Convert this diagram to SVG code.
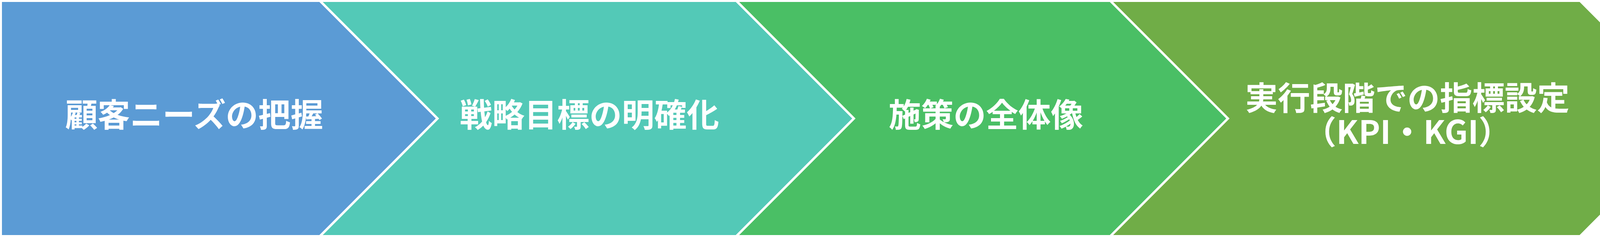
<svg xmlns="http://www.w3.org/2000/svg" width="4350" height="606" viewBox="0 0 4350 606">
<style>
.shape{stroke:#FFFFFF;stroke-width:6;stroke-linejoin:miter}
.lbl{font-family:"Noto Sans CJK JP","Noto Sans CJK SC",sans-serif;font-weight:700;font-size:83px;fill:#FFFFFF;text-anchor:middle}
</style>
<rect x="0" y="0" width="4350" height="606" fill="#FFFFFF"/>
<g id="step1">
<polygon class="shape" fill="#5B9BD5" points="2,2 819,2 1120,303 819,604 2,604"/>
<text class="lbl" x="497" y="324">顧客ニーズの把握</text>
</g>
<g id="step2">
<polygon class="shape" fill="#53C9B7" points="819,2 1885,2 2186,303 1885,604 819,604 1120,303"/>
<text class="lbl" x="1509" y="324">戦略目標の明確化</text>
</g>
<g id="step3">
<polygon class="shape" fill="#4ABF65" points="1885,2 2842.5,2 3143.5,303 2842.5,604 1885,604 2186,303"/>
<text class="lbl" x="2524" y="324">施策の全体像</text>
</g>
<g id="step4">
<polygon class="shape" fill="#70AD47" points="2842.5,2 4045,2 4346,303 4045,604 2842.5,604 3143.5,303"/>
<text class="lbl" x="3603" y="281">実行段階での指標設定<tspan x="3603" y="368">（KPI・KGI）</tspan></text>
</g>
<g id="connectors"></g>
</svg>
